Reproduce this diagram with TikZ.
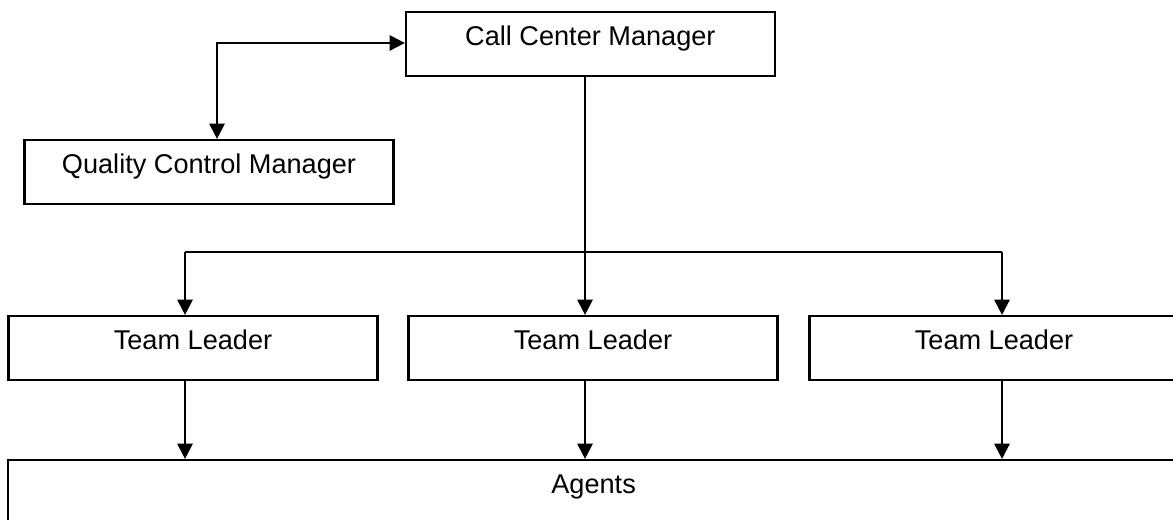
\documentclass[tikz,border=0pt]{standalone}
\usepackage{fontspec}
\setmainfont{Liberation Sans}
\usetikzlibrary{arrows.meta, positioning}

\begin{document}
\begin{tikzpicture}[font=\fontsize{19.3pt}{23pt}\selectfont, >={Triangle[length=0.38cm, width=0.38cm]},
    line width=1.5pt,
    orgbox/.style={draw, rectangle, minimum width=9.225cm, minimum height=1.6cm, inner sep=0pt,
      text height=0.72em, text depth=0.45em, align=center}]
    \useasboundingbox (0,0) rectangle (29.325,13);
    \clip (0,0) rectangle (29.325,13);
    \node[orgbox] (ccm) at (14.76,11.9) {Call Center Manager};
    \node[orgbox] (qcm) at (5.225,8.7) {Quality Control Manager};
    \node[orgbox] (tl1) at (4.825,4.3) {Team Leader};
    \node[orgbox] (tl2) at (14.825,4.3) {Team Leader};
    \node[orgbox] (tl3) at (24.85,4.3) {Team Leader};
    \node[orgbox, minimum width=29.275cm] (agents) at (14.84,0.7) {Agents};

    \coordinate (qbend) at (5.425,11.925);
    \coordinate (trunk) at (14.625,6.7);
    \coordinate (left) at (4.625,6.7);
    \coordinate (right) at (25.05,6.7);

    \draw[<->] (qcm.north -| qbend) -- (qbend) -- (ccm.west |- qbend);
    \draw[->] (ccm.south -| trunk) -- (tl2.north -| trunk);
    \draw (left) -- (right);
    \draw[->] (left) -- (tl1.north -| left);
    \draw[->] (right) -- (tl3.north -| right);

    \draw[->] (tl1.south -| left) -- (agents.north -| left);
    \draw[->] (tl2.south -| trunk) -- (agents.north -| trunk);
    \draw[->] (tl3.south -| right) -- (agents.north -| right);
\end{tikzpicture}
\end{document}
